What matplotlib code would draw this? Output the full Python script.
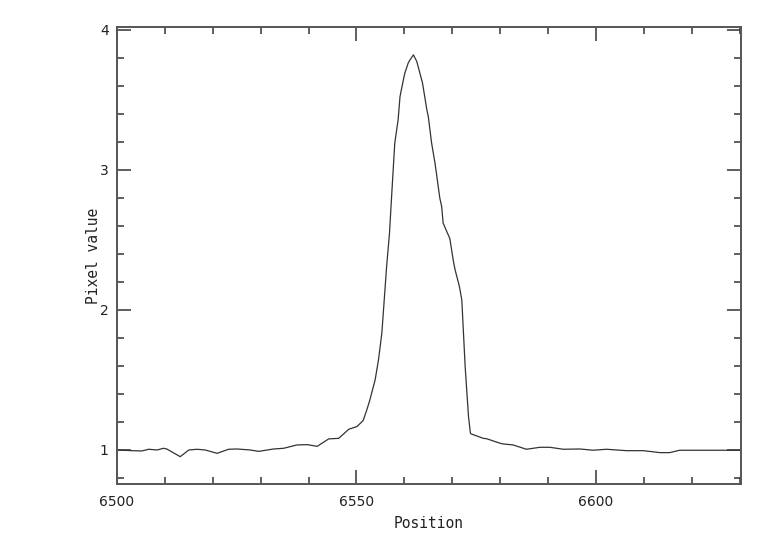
import matplotlib
matplotlib.use("Agg")
import matplotlib.pyplot as plt
from matplotlib.ticker import MultipleLocator

position = [6500.0, 6503.1, 6505.2, 6506.6, 6508.4, 6509.7, 6510.4, 6513.2, 6515.0, 6516.7,
            6518.4, 6520.9, 6523.3, 6525.1, 6527.8, 6529.6, 6532.7, 6534.8, 6537.6, 6539.7,
            6541.8, 6544.2, 6546.3, 6548.4, 6550.1, 6551.4, 6552.2, 6552.8, 6553.9, 6554.6,
            6555.3, 6555.8, 6556.3, 6556.9, 6557.3, 6558.0, 6558.7, 6559.1, 6559.8, 6560.1,
            6560.8, 6561.2, 6561.9, 6562.6, 6563.8, 6564.7, 6565.0, 6565.7, 6566.4, 6566.7,
            6567.4, 6567.8, 6568.1, 6568.6, 6569.5, 6570.2, 6570.6, 6571.5, 6572.0, 6572.7,
            6573.4, 6573.8, 6574.0, 6576.5, 6577.2, 6580.0, 6580.6, 6582.7, 6585.5, 6588.3,
            6590.4, 6593.2, 6596.7, 6599.4, 6602.2, 6606.4, 6609.9, 6613.4, 6615.4, 6617.5,
            6621.7, 6625.9, 6630.0]
pixel_value = [1.000, 0.995, 0.993, 1.005, 1.000, 1.012, 1.007, 0.952, 1.000, 1.005,
               1.000, 0.976, 1.005, 1.007, 1.000, 0.990, 1.007, 1.012, 1.036, 1.038,
               1.026, 1.079, 1.083, 1.148, 1.167, 1.210, 1.290, 1.357, 1.500, 1.643,
               1.833, 2.071, 2.310, 2.548, 2.786, 3.190, 3.357, 3.524, 3.643, 3.690,
               3.762, 3.786, 3.821, 3.774, 3.619, 3.429, 3.381, 3.190, 3.048, 2.976,
               2.800, 2.738, 2.620, 2.580, 2.510, 2.357, 2.286, 2.167, 2.071, 1.595,
               1.238, 1.119, 1.114, 1.083, 1.080, 1.048, 1.043, 1.036, 1.005, 1.019,
               1.019, 1.005, 1.007, 0.998, 1.005, 0.995, 0.995, 0.981, 0.981, 0.998,
               0.998, 0.998, 0.998]

x_ticks = [6500, 6550, 6600]
y_ticks = [1, 2, 3, 4]

fig = plt.figure(figsize=(7.82, 5.42), dpi=100)
ax = fig.add_axes([117/782, 58/542, 624/782, 457/542])
ax.plot(position, pixel_value, color="#333333", lw=0.9)
ax.set_xlim(6500, 6630.3)
ax.set_ylim(0.757, 4.02)
ax.set_xticks(x_ticks)
ax.set_yticks(y_ticks)
ax.xaxis.set_minor_locator(MultipleLocator(10))
ax.yaxis.set_minor_locator(MultipleLocator(0.2))
ax.tick_params(which="both", direction="in", top=True, right=True, color="#333333", width=1.1)
ax.tick_params(which="major", length=10, labelsize=10, pad=8, labelcolor="#222222")
ax.tick_params(axis="y", which="major", pad=6)
ax.tick_params(which="minor", length=5)
for s in ax.spines.values():
    s.set_color("#555555")
    s.set_linewidth(1.4)
ax.set_xlabel("Position", fontsize=10.5, family="DejaVu Sans Mono", color="#222222", labelpad=5)
ax.set_ylabel("Pixel value", fontsize=10.5, family="DejaVu Sans Mono", color="#222222", labelpad=-1)
fig.savefig("out.png", dpi=100)
